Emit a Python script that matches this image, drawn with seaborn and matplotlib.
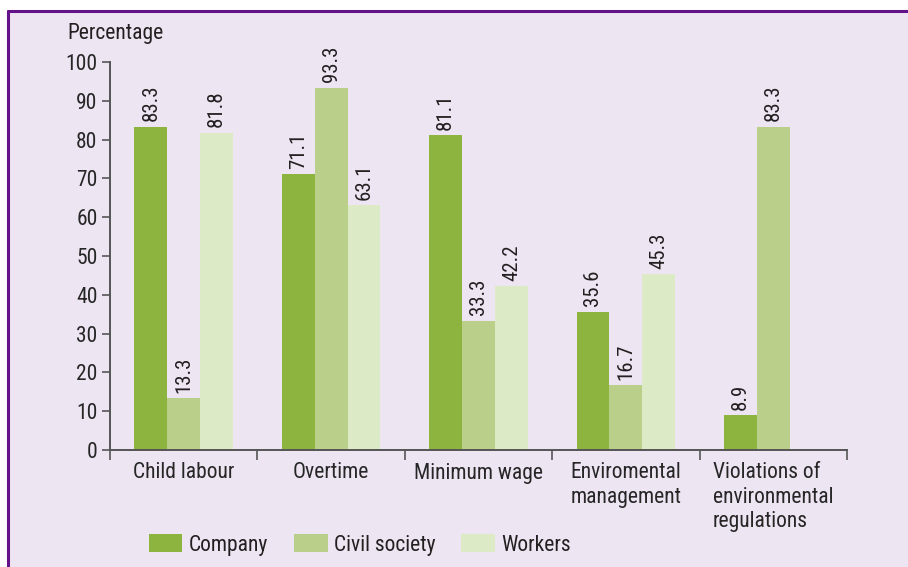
import numpy as np
import pandas as pd
import seaborn as sns
import matplotlib.pyplot as plt
from matplotlib.lines import Line2D
from matplotlib.patches import Rectangle

# Chart data
categories = ['Child labour', 'Overtime', 'Minimum wage',
              'Enviromental\nmanagement', 'Violations of\nenvironmental\nregulations']
groups = ['Company', 'Civil society', 'Workers']
company = [83.3, 71.1, 81.1, 35.6, 8.9]
civil_society = [13.3, 93.3, 33.3, 16.7, 83.3]
workers = [81.8, 63.1, 42.2, 45.3, np.nan]

colors = ['#8db43e', '#b9cf8a', '#dceac5']
bg = '#ede5f2'

df = pd.DataFrame({'category': categories * 3,
                   'group': [g for g in groups for _ in categories],
                   'value': company + civil_society + workers})

sns.set_style('white')
plt.rcParams['font.family'] = ['Liberation Sans Narrow', 'Roboto Condensed', 'Roboto', 'DejaVu Sans']
plt.rcParams['text.color'] = '#231f20'

fig = plt.figure(figsize=(9.08, 5.67), dpi=100, facecolor='white')

# Lavender panel with purple frame on top and left
fig.patches.append(Rectangle((9 / 908, 0), 1 - 9 / 908, 1 - 12 / 567, transform=fig.transFigure,
                             facecolor=bg, edgecolor='none', linewidth=0, zorder=-2))
fig.add_artist(Line2D([8 / 908, 1], [1 - 11 / 567] * 2, transform=fig.transFigure,
                      color='#64128a', lw=2.2))
fig.add_artist(Line2D([8 / 908] * 2, [0, 1 - 11 / 567], transform=fig.transFigure,
                      color='#64128a', lw=2.2))

ax = fig.add_axes([110 / 908, 1 - 450 / 567, (847 - 110) / 908, (450 - 62) / 567])
ax.set_facecolor(bg)

sns.barplot(data=df, x='category', y='value', hue='group', palette=colors,
            width=0.67, saturation=1, linewidth=0, ax=ax, legend=True)

for cont in ax.containers:
    labels = ['' if np.isnan(v) else f'{v:.1f}' for v in cont.datavalues]
    ax.bar_label(cont, labels=labels, rotation=90, padding=4, fontsize=15,
                 color='#231f20')

ax.set_ylim(0, 100)
ax.set_xlim(-0.5, 4.5)
ax.set_yticks(range(0, 101, 10))
ax.tick_params(axis='y', labelsize=15.5, length=6, width=1.2, color='#555555',
               pad=3, direction='out', left=True)
ax.set_xticks(np.arange(-0.5, 4.6, 1))
ax.set_xticklabels([])
ax.set_xticks(range(5), minor=True)
ax.set_xticklabels(categories, minor=True, fontsize=15.5, ha='center',
                   multialignment='left', va='top')
ax.tick_params(axis='x', which='major', length=7, width=1.2, color='#555555',
               direction='out', bottom=True)
ax.tick_params(axis='x', which='minor', length=0, pad=9)
for lab in ax.get_xticklabels(minor=True):
    lab.set_linespacing(1.2)

for s in ['top', 'right']:
    ax.spines[s].set_visible(False)
for s in ['left', 'bottom']:
    ax.spines[s].set_color('#555555')
    ax.spines[s].set_linewidth(1.4)

ax.set_xlabel('')
ax.set_ylabel('')
fig.text(67 / 908, 1 - 33 / 567, 'Percentage', fontsize=15.5, va='center', ha='left')

handles, labs = ax.get_legend_handles_labels()
ax.legend_.remove()
fig.legend(handles, labs, loc='center', bbox_to_anchor=(360 / 908, 1 - 545 / 567),
           ncol=3, frameon=False, fontsize=15.5, handlelength=1.55, handleheight=0.85,
           columnspacing=1.2, handletextpad=0.3)

fig.savefig('out.png', dpi=100, facecolor='white')
